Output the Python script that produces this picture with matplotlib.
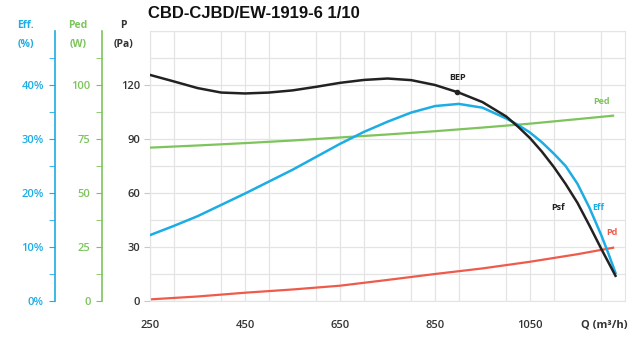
import matplotlib.pyplot as plt
from matplotlib.ticker import MultipleLocator, FixedLocator

# airflow Q (m3/h)
q = [250, 300, 350, 400, 450, 500, 550, 600, 650, 700, 750, 800, 850,
     900, 950, 1000, 1025, 1050, 1075, 1100, 1125, 1150, 1175, 1200, 1215, 1230]
# static pressure Psf (Pa)
psf = [125.6, 122, 118.3, 115.8, 115.3, 115.8, 117, 119, 121.2, 122.8, 123.6,
       122.7, 120, 115.8, 110.5, 102.5, 96.8, 90.5, 83, 74.5, 65, 54.5, 42, 29, 21.5, 14]
# efficiency (%)
eff = [12.2, 13.9, 15.7, 17.8, 19.9, 22.1, 24.3, 26.7, 29.1, 31.3, 33.2,
       34.9, 36.1, 36.5, 35.8, 33.8, 32.6, 31.2, 29.4, 27.3, 25.0, 21.7, 17.3,
       12.2, 8.8, 5.2]

q2 = [250, 350, 450, 550, 650, 750, 850, 950, 1050, 1150, 1225]
# absorbed power Ped (W)
ped = [71, 72, 73.1, 74.3, 75.7, 77.1, 78.6, 80.3, 82.1, 84.2, 85.8]
# dynamic pressure Pd (Pa)
pd_ = [0.9, 2.5, 4.6, 6.4, 8.5, 11.7, 15, 18.1, 21.8, 26, 29.6]

bep_q, bep_p = 897, 116

x_ticks = [250, 450, 650, 850, 1050]
p_ticks = [0, 30, 60, 90, 120]
eff_ticks = [0, 10, 20, 30, 40]
ped_ticks = [0, 25, 50, 75, 100]

BLUE = '#1cade4'
GREEN = '#7dc45c'
RED = '#ef5b4b'
BLACK = '#222222'
TXT = '#333333'
GRID = '#e4e4e4'

plt.rcParams['font.family'] = ['Open Sans', 'DejaVu Sans']

fig = plt.figure(figsize=(6.4, 3.37), dpi=100)
ax = fig.add_axes([150 / 640, 36 / 337, 475 / 640, 270 / 337])

ax.plot(q2, pd_, color=RED, lw=1.6)
ax.set_xlim(250, 1250)
ax.set_ylim(0, 150)

ax_ped = ax.twinx()
ax_ped.plot(q2, ped, color=GREEN, lw=1.6)
ax_ped.set_ylim(0, 125)

ax_eff = ax.twinx()
ax_eff.plot(q, eff, color=BLUE, lw=1.8)
ax_eff.set_ylim(0, 50)

ax_p = ax.twinx()
ax_p.set_ylim(0, 150)
ax_p.plot(q, psf, color=BLACK, lw=1.8)
ax_p.plot([bep_q], [bep_p], 'o', color=BLACK, ms=3)
ax_p.set_yticks([])
for s in ax_p.spines.values():
    s.set_visible(False)

# grid on main axes
ax.xaxis.set_major_locator(FixedLocator(x_ticks))
ax.xaxis.set_minor_locator(MultipleLocator(100))
ax.yaxis.set_major_locator(FixedLocator(p_ticks))
ax.yaxis.set_minor_locator(MultipleLocator(15))
ax.grid(True, which='both', color=GRID, lw=0.9)
ax.set_axisbelow(True)
for s in ax.spines.values():
    s.set_color(GRID)
ax.tick_params(axis='x', which='both', length=0, pad=14, labelsize=8, labelcolor=TXT)
ax.tick_params(axis='y', which='major', length=4, color='#c8c8c8', pad=3,
               labelsize=8, labelcolor=TXT)
ax.tick_params(axis='y', which='minor', length=0)
for lab in ax.get_xticklabels() + ax.get_yticklabels():
    lab.set_fontweight('semibold')

# extra left axes
for a, pos, col, ticks, minor, fmt in [
        (ax_eff, -0.2, BLUE, eff_ticks, 5, '{:d}%'),
        (ax_ped, -0.102, GREEN, ped_ticks, 12.5, '{:d}')]:
    for name, s in a.spines.items():
        s.set_visible(name == 'left')
    a.spines['left'].set_position(('axes', pos))
    a.spines['left'].set_color(col)
    a.spines['left'].set_linewidth(1.2)
    a.yaxis.set_ticks_position('left')
    a.yaxis.set_label_position('left')
    a.set_yticks(ticks)
    a.set_yticklabels([fmt.format(t) for t in ticks])
    a.yaxis.set_minor_locator(FixedLocator([t + minor for t in ticks]))
    a.tick_params(axis='y', which='both', color=col, length=4, labelsize=8,
                  labelcolor=col, pad=4)
    for lab in a.get_yticklabels():
        lab.set_fontweight('semibold')

# axis headers
hdr = dict(ha='center', va='center', fontsize=7.5, fontweight='bold')
fig.text(25 / 640, 1 - 25 / 337, 'Eff.', color=BLUE, **hdr)
fig.text(26 / 640, 1 - 45 / 337, '(%)', color=BLUE, **hdr)
fig.text(78 / 640, 1 - 25 / 337, 'Ped', color=GREEN, **hdr)
fig.text(78 / 640, 1 - 45 / 337, '(W)', color=GREEN, **hdr)
fig.text(123 / 640, 1 - 25 / 337, 'P', color=TXT, **hdr)
fig.text(123 / 640, 1 - 45 / 337, '(Pa)', color=TXT, **hdr)

fig.text(148 / 640, 1 - 13 / 337, 'CBD-CJBD/EW-1919-6 1/10', ha='left', va='center',
         fontsize=12, fontweight='bold', family='Liberation Sans', color='#111111')
fig.text(604 / 640, 1 - 325 / 337, 'Q (m³/h)', ha='center', va='center',
         fontsize=8, fontweight='bold', color=TXT)

# curve labels
lab = dict(ha='center', va='center', fontsize=6.5, fontweight='bold')
ax.text(898, 124, 'BEP', color=BLACK, **lab)
ax.text(1201, 110.7, 'Ped', color=GREEN, **lab)
ax.text(1109, 51.7, 'Psf', color=BLACK, **lab)
ax.text(1193, 51.7, 'Eff', color=BLUE, **lab)
ax.text(1222, 38, 'Pd', color=RED, **lab)

fig.savefig('out.png', dpi=100)
